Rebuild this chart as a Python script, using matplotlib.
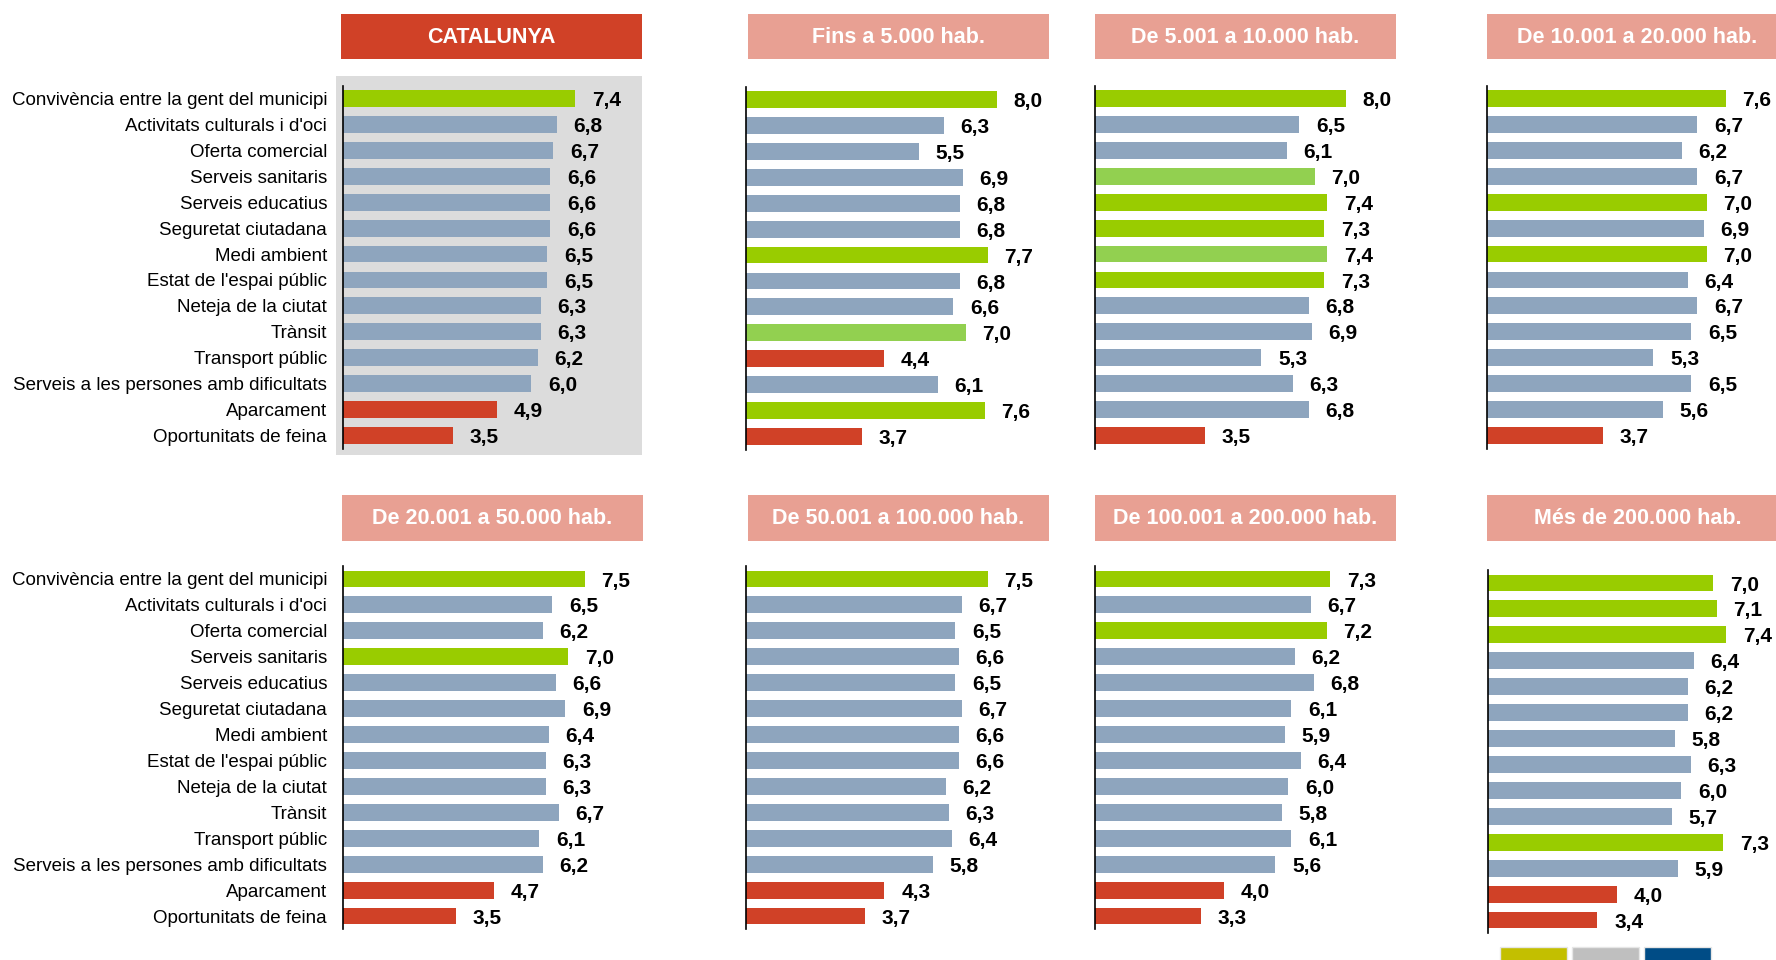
import matplotlib.pyplot as plt
from matplotlib.patches import Rectangle

plt.rcParams['font.family'] = ['Liberation Sans', 'DejaVu Sans']

categories = ["Convivència entre la gent del municipi", "Activitats culturals i d'oci",
              "Oferta comercial", "Serveis sanitaris", "Serveis educatius",
              "Seguretat ciutadana", "Medi ambient", "Estat de l'espai públic",
              "Neteja de la ciutat", "Trànsit", "Transport públic",
              "Serveis a les persones amb dificultats", "Aparcament", "Oportunitats de feina"]

titles = ["CATALUNYA", "Fins a 5.000 hab.", "De 5.001 a 10.000 hab.", "De 10.001 a 20.000 hab.",
          "De 20.001 a 50.000 hab.", "De 50.001 a 100.000 hab.", "De 100.001 a 200.000 hab.",
          "Més de 200.000 hab."]

catalunya = [7.4, 6.8, 6.7, 6.6, 6.6, 6.6, 6.5, 6.5, 6.3, 6.3, 6.2, 6.0, 4.9, 3.5]
fins_5000 = [8.0, 6.3, 5.5, 6.9, 6.8, 6.8, 7.7, 6.8, 6.6, 7.0, 4.4, 6.1, 7.6, 3.7]
de_5001 = [8.0, 6.5, 6.1, 7.0, 7.4, 7.3, 7.4, 7.3, 6.8, 6.9, 5.3, 6.3, 6.8, 3.5]
de_10001 = [7.6, 6.7, 6.2, 6.7, 7.0, 6.9, 7.0, 6.4, 6.7, 6.5, 5.3, 6.5, 5.6, 3.7]
de_20001 = [7.5, 6.5, 6.2, 7.0, 6.6, 6.9, 6.4, 6.3, 6.3, 6.7, 6.1, 6.2, 4.7, 3.5]
de_50001 = [7.5, 6.7, 6.5, 6.6, 6.5, 6.7, 6.6, 6.6, 6.2, 6.3, 6.4, 5.8, 4.3, 3.7]
de_100001 = [7.3, 6.7, 7.2, 6.2, 6.8, 6.1, 5.9, 6.4, 6.0, 5.8, 6.1, 5.6, 4.0, 3.3]
mes_200000 = [7.0, 7.1, 7.4, 6.4, 6.2, 6.2, 5.8, 6.3, 6.0, 5.7, 7.3, 5.9, 4.0, 3.4]

# g = above average, l = light green, b = normal, r = below
groups = ["gbbbbbbbbbbbrr", "gbbbbbgbblrbgr", "gbblgglgbbbbbr", "gbbbgbgbbbbbbr",
          "gbbgbbbbbbbbrr", "gbbbbbbbbbbbrr", "gbgbbbbbbbbbrr", "gggbbbbbbbgbrr"]

series = [catalunya, fins_5000, de_5001, de_10001, de_20001, de_50001, de_100001, mes_200000]

cols = {'g': '#99CC00', 'l': '#92D050', 'b': '#8EA5BE', 'r': '#D04127'}

W, H = 1776, 960
fig = plt.figure(figsize=(W / 100, H / 100), dpi=100)

def box(x, y, w, h, **kw):
    r = Rectangle((x / W, 1 - (y + h) / H), w / W, h / H, transform=fig.transFigure, **kw)
    fig.add_artist(r)

# gray background of the Catalunya panel
box(336, 76, 306, 379, facecolor='#DCDCDC', edgecolor='none', zorder=-1)

lefts = [343, 746, 1095, 1487, 343, 746, 1095, 1488]
tops = [85.5, 86.5, 85.5, 85.5, 566, 566, 566, 570]
hdr_x = [341, 748, 1095, 1487, 342, 748, 1095, 1487]
scale = [31.4] * 4 + [32.2] * 4

for k in range(8):
    ax_w = 300
    ax_h = 363
    ax = fig.add_axes([lefts[k] / W, 1 - (tops[k] + ax_h) / H, ax_w / W, ax_h / H])
    ax.set_facecolor('none')
    vals = series[k]
    ax.barh(range(14), vals, height=0.65, color=[cols[c] for c in groups[k]])
    ax.set_xlim(0, ax_w / scale[k])
    ax.set_ylim(13.5, -0.5)
    for s in ['top', 'right', 'bottom']:
        ax.spines[s].set_visible(False)
    ax.spines['left'].set_linewidth(1.2)
    ax.set_xticks([])
    if k in (0, 4):
        ax.set_yticks(range(14))
        ax.set_yticklabels(categories, fontsize=13.5)
        ax.tick_params(axis='y', length=0, pad=11.5)
    else:
        ax.set_yticks([])
    for i, v in enumerate(vals):
        ax.annotate(f"{v:.1f}".replace('.', ','), xy=(v, i), xytext=(12, -1.5),
                    textcoords='offset points', ha='left', va='center',
                    fontsize=15, fontweight='bold', annotation_clip=False)

    hy = 13.6 if k < 4 else 495
    box(hdr_x[k], hy, 301, 45.5, facecolor='#D04127' if k == 0 else '#E8A093', edgecolor='none')
    fig.text((hdr_x[k] + 150.5) / W, 1 - (hy + 23.5) / H, titles[k], ha='center', va='center',
             color='white', fontsize=15.5, fontweight='bold')

# leftover legend swatches at the bottom
for x0, c in zip([1500, 1572, 1644], ['#C3BF00', '#BFBFBF', '#004C86']):
    box(x0, 947, 67, 20, facecolor=c, edgecolor='#E6E6E6', linewidth=1)

fig.savefig('out.png', dpi=100)
